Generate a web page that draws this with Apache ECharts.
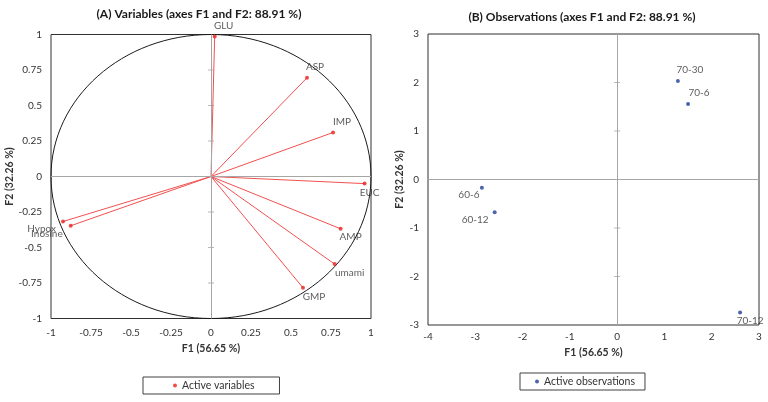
<!DOCTYPE html>
<html><head><meta charset="utf-8">
<script src="https://cdn.jsdelivr.net/npm/echarts@6/dist/echarts.min.js"></script>
<style>html,body{margin:0;padding:0;background:#fff}#c{width:768px;height:402px}</style>
</head><body><div id="c"></div>
<script>
// ---- data ----
const varNames = ['GLU','ASP','IMP','EUC','AMP','umami','GMP','Hypox','Inosine'];
const varF1 = [0.023, 0.60, 0.763, 0.96, 0.81, 0.773, 0.575, -0.925, -0.877];
const varF2 = [0.986, 0.695, 0.31, -0.05, -0.368, -0.617, -0.784, -0.317, -0.347];
const obsNames = ['70-30','70-6','60-6','60-12','70-12'];
const obsF1 = [1.285, 1.50, -2.86, -2.59, 2.60];
const obsF2 = [2.03, 1.556, -0.17, -0.676, -2.74];
const varTicks = [-0.75,-0.5,-0.25,0.25,0.5,0.75];
const obsTicks = [-2,-1,1,2];
const circleRadius = 1;

// ---- label placement (style) ----
const varLabelPos = {
  GLU:{position:'top',offset:[9,0]}, ASP:{position:'top',offset:[8,0]},
  IMP:{position:'top',offset:[9,0]}, EUC:{position:'bottom',offset:[5,-2]},
  AMP:{position:'bottom',offset:[10,-3]}, umami:{position:'bottom',offset:[15,-2]},
  GMP:{position:'bottom',offset:[11,-2]}, Hypox:{position:'left',offset:[-1,7]},
  Inosine:{position:'left',offset:[-2,8]}
};
const obsLabelPos = {
  '70-30':{position:'top',offset:[12,0]}, '70-6':{position:'top',offset:[11,0]},
  '60-6':{position:'bottom',offset:[-13,-4]}, '60-12':{position:'left',offset:[0,7]},
  '70-12':{position:'bottom',offset:[10,-3]}
};

const FONT = 'Lato, "Open Sans", sans-serif';
const txt = '#333333';
const red = '#e8201c', redLine = '#f25050', blue = '#1f3d99';

const chart = echarts.init(document.getElementById('c'), null, {renderer:'canvas'});

function axis(gridIndex, min, max, interval, name, nameGap, labelMargin){
  return {
    gridIndex, type:'value', min, max, interval, name,
    nameLocation:'middle', nameGap,
    nameTextStyle:{fontFamily:FONT, fontWeight:'bold', fontSize:10.5, color:txt},
    axisLine:{show:false}, axisTick:{show:false}, splitLine:{show:false},
    axisLabel:{fontFamily:FONT, fontSize:10, color:txt, margin:labelMargin}
  };
}

const zeroLines = {
  silent:true, symbol:'none', label:{show:false},
  lineStyle:{color:'#a6a6a6', width:1, type:'solid'},
  data:[{xAxis:0},{yAxis:0}], animation:false
};

const option = {
  animation:false,
  title:[
    {text:'(A) Variables (axes F1 and F2: 88.91 %)', left:194, top:3, textAlign:'center',
     textStyle:{fontFamily:FONT, fontWeight:'bold', fontSize:12, color:'#1a1a1a'}},
    {text:'(B) Observations (axes F1 and F2: 88.91 %)', left:577, top:6, textAlign:'center',
     textStyle:{fontFamily:FONT, fontWeight:'bold', fontSize:12, color:'#1a1a1a'}}
  ],
  grid:[
    {left:51, top:34.5, width:320, height:284, show:true, borderColor:'#303030', borderWidth:1},
    {left:428, top:34, width:331, height:291, show:true, borderColor:'#303030', borderWidth:1}
  ],
  xAxis:[
    axis(0,-1,1,0.25,'F1 (56.65 %)',25,9),
    axis(1,-4,3,1,'F1 (56.65 %)',22,7)
  ],
  yAxis:[
    axis(0,-1,1,0.25,'F2 (32.26 %)',33,9),
    axis(1,-3,3,1,'F2 (32.26 %)',21,9)
  ],
  legend:[
    {data:['Active variables'], left:143, top:377, orient:'horizontal',
     padding:[3,25,3,30], borderColor:'#404040', borderWidth:1,
     itemWidth:4, itemHeight:4, icon:'circle',
     textStyle:{fontFamily:FONT, fontSize:10.5, color:txt}},
    {data:['Active observations'], left:520, top:373, orient:'horizontal',
     padding:[3,10,3,15], borderColor:'#404040', borderWidth:1,
     itemWidth:4, itemHeight:4, icon:'circle',
     textStyle:{fontFamily:FONT, fontSize:10.5, color:txt}}
  ],
  series:[
    {type:'custom', xAxisIndex:0, yAxisIndex:0, silent:true, clip:false, z:1,
     data:[[0,0,circleRadius]],
     renderItem:function(params, api){
       const c = api.coord([api.value(0), api.value(1)]);
       const r = api.value(2);
       const e = api.coord([r, r]);
       return {type:'ellipse', shape:{cx:c[0], cy:c[1], rx:e[0]-c[0], ry:c[1]-e[1]},
               style:{stroke:'#1a1a1a', fill:null, lineWidth:1}};
     }},
    {type:'scatter', xAxisIndex:0, yAxisIndex:0, silent:true, z:2,
     symbol:'rect', symbolSize:[6,1], itemStyle:{color:'#a6a6a6'},
     data:varTicks.map(v=>[0,v]), markLine:zeroLines},
    {type:'custom', xAxisIndex:0, yAxisIndex:0, silent:true, z:3,
     data:varF1.map((x,i)=>[x,varF2[i]]),
     renderItem:function(params, api){
       const o = api.coord([0,0]);
       const p = api.coord([api.value(0), api.value(1)]);
       return {type:'line', shape:{x1:o[0], y1:o[1], x2:p[0], y2:p[1]},
               style:{stroke:redLine, lineWidth:1}};
     }},
    {type:'scatter', name:'Active variables', xAxisIndex:0, yAxisIndex:0, z:4,
     symbol:'circle', symbolSize:4, itemStyle:{color:red},
     data:varNames.map((n,i)=>({name:n, value:[varF1[i],varF2[i]],
       label:Object.assign({show:true, formatter:n, distance:4,
         fontFamily:FONT, fontSize:10, color:txt}, varLabelPos[n])}))},
    {type:'scatter', xAxisIndex:1, yAxisIndex:1, silent:true, z:2,
     symbol:'rect', symbolSize:[6,1], itemStyle:{color:'#a6a6a6'},
     data:obsTicks.map(v=>[0,v]), markLine:zeroLines},
    {type:'scatter', name:'Active observations', xAxisIndex:1, yAxisIndex:1, z:4,
     symbol:'circle', symbolSize:4, itemStyle:{color:blue},
     data:obsNames.map((n,i)=>({name:n, value:[obsF1[i],obsF2[i]],
       label:Object.assign({show:true, formatter:n, distance:4,
         fontFamily:FONT, fontSize:10, color:txt}, obsLabelPos[n])}))}
  ]
};
chart.setOption(option);
</script></body></html>
